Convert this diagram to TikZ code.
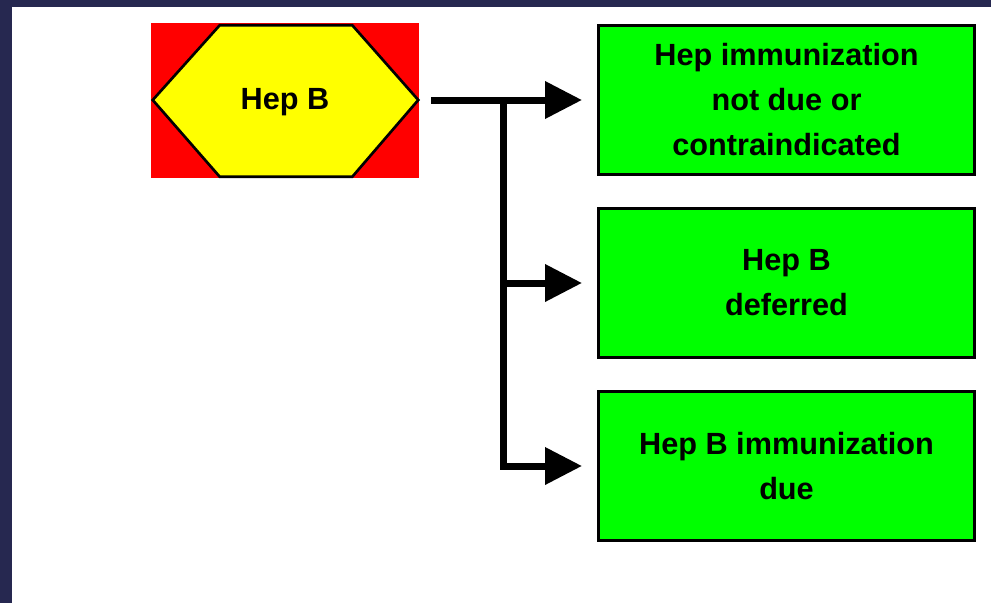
\documentclass[tikz,border=0pt]{standalone}
\usepackage{fontspec}
\setmainfont{Liberation Sans}
\usetikzlibrary{positioning,arrows.meta,calc,shadows}
\definecolor{cFrame}{HTML}{262850}
\definecolor{cStop}{HTML}{FF0000}
\definecolor{cHex}{HTML}{FFFF00}
\definecolor{cBox}{HTML}{00FF00}
\tikzset{
  txt/.style={font=\fontsize{23}{33.75}\selectfont\bfseries, align=center, text=black},
  stopb/.style={fill=cStop, minimum width=201pt, minimum height=116.25pt, inner sep=0pt},
  hexb/.style={draw=black, fill=cHex, line width=2pt, line join=miter},
  outb/.style={txt, draw=black, fill=cBox, line width=2.25pt, inner sep=0pt,
               minimum width=282pt, minimum height=111.75pt,
               drop shadow={shadow xshift=1pt, shadow yshift=-1pt, fill=black!40, opacity=1}},
  ar/.style={-{Triangle[length=27.75pt, width=27pt]}, line width=5.25pt, shorten >=11.25pt},
}

\begin{document}
\begin{tikzpicture}[x=0.75pt, y=-0.75pt, node distance=23.25pt]
    % frame
    \fill[white] (0,0) rectangle (991,603);
    \fill[cFrame] (0,0) rectangle (991,7);
    \fill[cFrame] (0,0) rectangle (12,603);
    \useasboundingbox (0,0) rectangle (991,603);

    % decision
    \node[stopb] (hepb) at (285,100) {};
    \draw[hexb] ($(hepb.west)+(2,0)$) -- ($(hepb.north west)+(69,3)$)
      -- ($(hepb.north east)+(-67,3)$) -- ($(hepb.east)+(-1,0)$)
      -- ($(hepb.south east)+(-67,-1)$) -- ($(hepb.south west)+(69,-1)$) -- cycle;
    \node[txt] (hexlabel) at ($(hepb)+(0,2)$) {Hep B};

    % outcomes
    \node[outb] (notdue) at (786.5,100) {Hep immunization\\not due or\\contraindicated};
    \node[outb, below=of notdue] (deferred) {Hep B\\deferred};
    \node[outb, below=of deferred] (due) {Hep B immunization\\due};

    \coordinate (split) at ($(hepb.east)+(84,0)$);
    \draw[ar, shorten <=9pt] (hepb.east) -- (notdue.west);
    \draw[ar] (split) |- (deferred.west);
    \draw[ar] (split) |- (due.west);
\end{tikzpicture}
\end{document}
